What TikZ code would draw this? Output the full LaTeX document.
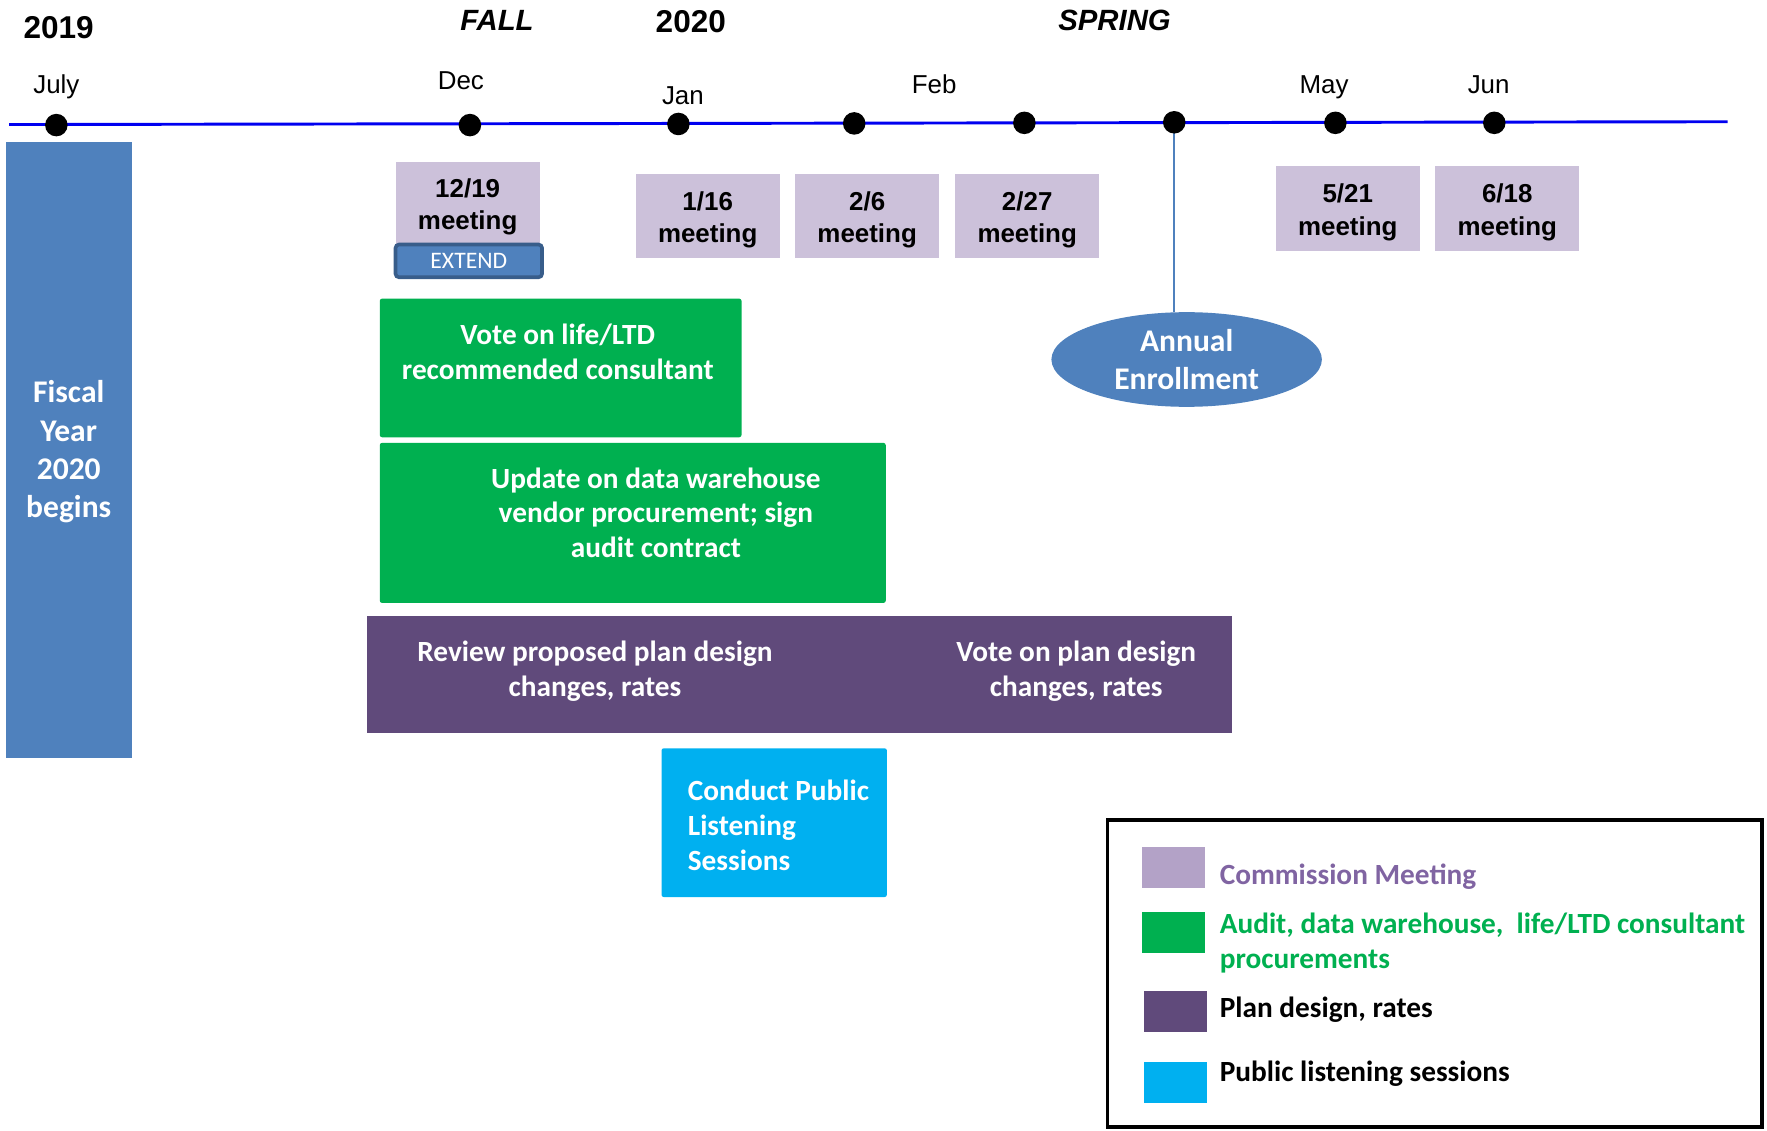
\documentclass[tikz,border=0pt]{standalone}
\usepackage{fontspec}
\setmainfont{Carlito}
\newfontfamily\arialf{Liberation Sans}
\usetikzlibrary{shapes.geometric}
\definecolor{fyblue}{HTML}{4F81BD}
\definecolor{fyborder}{HTML}{385D8A}
\definecolor{meetfill}{HTML}{CCC1DA}
\definecolor{meetswatch}{HTML}{B3A2C7}
\definecolor{meettext}{HTML}{8064A2}
\definecolor{procgreen}{HTML}{00B050}
\definecolor{planpurple}{HTML}{604A7B}
\definecolor{listencyan}{HTML}{00B0F0}
\definecolor{lineblue}{HTML}{0000F0}
\begin{document}
\begin{tikzpicture}[x=0.5pt,y=-0.5pt,
  tldot/.style={circle, fill=black, inner sep=0pt, minimum size=10pt},
  yearlbl/.style={font=\arialf\bfseries\fontsize{14}{16}\selectfont, anchor=mid},
  seasonlbl/.style={font=\arialf\bfseries\itshape\fontsize{13}{15}\selectfont, anchor=mid},
  monthlbl/.style={font=\arialf\fontsize{11.5}{13}\selectfont, anchor=mid},
  meetbox/.style={rectangle, fill=meetfill, inner sep=0pt, minimum width=64pt,
    minimum height=37.5pt},
  meettext/.style={align=center, inner sep=0pt,
    font=\arialf\bfseries\fontsize{11.5}{14.5}\selectfont},
  boxtext/.style={text=white, align=center, inner sep=0pt,
    font=\bfseries\fontsize{13}{15.5}\selectfont},
  bigtext/.style={text=white, align=center, inner sep=0pt,
    font=\bfseries\fontsize{14}{17}\selectfont},
  procbox/.style={rectangle, fill=procgreen, rounded corners=1pt, inner sep=0pt},
  swatch/.style={rectangle, inner sep=0pt, minimum width=28pt, minimum height=18pt},
  legtext/.style={anchor=west, align=left, inner sep=0pt,
    font=\bfseries\fontsize{13}{15.5}\selectfont}
]
\useasboundingbox (0,0) rectangle (1568,1003);

% headings
\node[yearlbl] (y2019) at (52,29) {2019};
\node[seasonlbl] (fall) at (441,22) {FALL};
\node[yearlbl] (y2020) at (613,24) {2020};
\node[seasonlbl] (spring) at (989,22) {SPRING};

% months
\node[monthlbl] (mjul) at (50,78) {July};
\node[monthlbl] (mdec) at (409,75) {Dec};
\node[monthlbl] (mjan) at (606,88) {Jan};
\node[monthlbl] (mfeb) at (829,78) {Feb};
\node[monthlbl] (mmay) at (1175,78) {May};
\node[monthlbl] (mjun) at (1321,78) {Jun};

% timeline
\coordinate (tlstart) at (8,110.5);
\coordinate (tlend) at (1533,108);
\draw[lineblue, line width=1.3pt] (tlstart) -- (tlend);

% annual enrollment
\node[ellipse, fill=fyblue, minimum width=120pt, minimum height=42pt, inner sep=0pt,
  bigtext] (ae) at (1053,319) {Annual\\Enrollment};
\coordinate (d6) at (1042,108.5);
\draw[fyblue, line width=0.8pt] (d6) -- (d6 |- ae.north);

% timeline dots
\node[tldot] (d1) at (50,111) {};
\node[tldot] (d2) at (417,111) {};
\node[tldot] (d3) at (602,110) {};
\node[tldot] (d4) at (758,109.5) {};
\node[tldot] (d5) at (909,109) {};
\node[tldot] at (d6) {};
\node[tldot] (d7) at (1185,109) {};
\node[tldot] (d8) at (1326,109) {};

% fiscal year bar
\node[rectangle, fill=fyblue, minimum width=56pt, minimum height=273.5pt, inner sep=0pt]
  (fy) at (61,399.5) {};
\node[bigtext] (fytext) at (61,401) {Fiscal\\Year\\2020\\begins};

% meetings
\node[meetbox, minimum height=36.5pt] (m1219) at (415,180) {};
\node[meettext] (m1219t) at ([yshift=-1.75pt]m1219.center) {12/19\\meeting};
\node[rectangle, fill=fyblue, draw=fyborder, line width=1.6pt, rounded corners=1.5pt,
  minimum width=65pt, minimum height=14.5pt, inner sep=0pt, text=white,
  font=\fontsize{10.5}{12}\selectfont] (ext) at (416,231.5) {EXTEND};
\node[meetbox] (m116) at (628,191.5) {};
\node[meettext] (m116t) at ([yshift=-1.75pt]m116.center) {1/16\\meeting};
\node[meetbox] (m26) at (769.5,191.5) {};
\node[meettext] (m26t) at ([yshift=-1.75pt]m26.center) {2/6\\meeting};
\node[meetbox] (m227) at (911.5,191.5) {};
\node[meettext] (m227t) at ([yshift=-1.75pt]m227.center) {2/27\\meeting};
\node[meetbox] (m521) at (1196,185) {};
\node[meettext] (m521t) at ([yshift=-1.75pt]m521.center) {5/21\\meeting};
\node[meetbox] (m618) at (1337.5,185) {};
\node[meettext] (m618t) at ([yshift=-1.75pt]m618.center) {6/18\\meeting};

% procurement boxes
\node[procbox, minimum width=160.5pt, minimum height=61.5pt] (g1) at (497.5,326.5) {};
\node[boxtext] (g1t) at (495,312) {Vote on life/LTD\\recommended consultant};
\node[procbox, minimum width=224.5pt, minimum height=71pt] (g2) at (561.5,464) {};
\node[boxtext] (g2t) at (582,455) {Update on data warehouse\\vendor procurement; sign\\audit contract};

% plan design box
\node[rectangle, fill=planpurple, minimum width=383.5pt, minimum height=51.5pt, inner sep=0pt]
  (pd) at (709.5,598.5) {};
\node[boxtext] (pdl) at (528,595.5) {Review proposed plan design\\changes, rates};
\node[boxtext] (pdr) at (955,595.5) {Vote on plan design\\changes, rates};

% listening sessions
\node[rectangle, fill=listencyan, rounded corners=1pt, minimum width=100pt,
  minimum height=66pt, inner sep=0pt] (ls) at (687,730) {};
\node[boxtext, align=left, anchor=west] (lst) at (610,732) {Conduct Public\\Listening\\Sessions};

% legend
\draw[black, line width=1.5pt] (982.5,727.5) rectangle (1563.5,1000);
\node[swatch, fill=meetswatch] (s1) at (1041,770) {};
\node[legtext, text=meettext] (l1) at (1082,778) {Commission Meeting};
\node[swatch, fill=procgreen] (s2) at (1041,827.5) {};
\node[legtext, text=procgreen] (l2) at (1082,837) {Audit, data warehouse,\ \ life/LTD consultant\\procurements};
\node[swatch, fill=planpurple] (s3) at (1043,897.5) {};
\node[legtext, text=black] (l3) at (1082,896) {Plan design, rates};
\node[swatch, fill=listencyan] (s4) at (1043,960.5) {};
\node[legtext, text=black] (l4) at (1082,953) {Public listening sessions};
\end{tikzpicture}
\end{document}
